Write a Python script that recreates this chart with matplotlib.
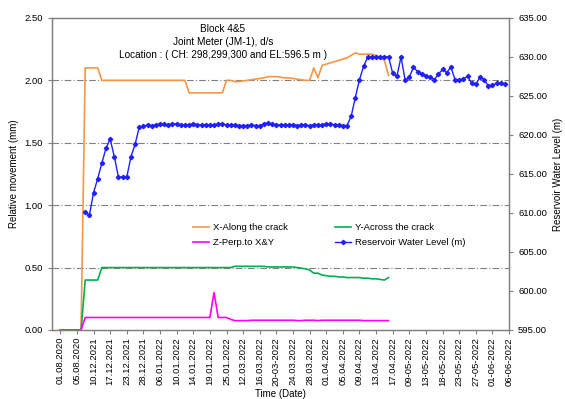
import numpy as np
import matplotlib
matplotlib.use("Agg")
import matplotlib.pyplot as plt
from matplotlib.ticker import FormatStrFormatter

plt.rcParams['font.family'] = ['Liberation Sans', 'DejaVu Sans']

# x axis labels (one every 4 readings)
dates = ["01.08.2020", "05.08.2020", "10.12.2021", "17.12.2021", "23.12.2021",
         "28.12.2021", "06.01.2022", "10.01.2022", "14.01.2022", "19.01.2022",
         "25.01.2022", "12.03.2022", "16.03.2022", "20-03-2022", "24.03.2022",
         "28.03.2022", "01.04.2022", "05.04.2022", "09.04.2022", "13.04.2022",
         "17.04.2022", "09-05-2022", "13-05-2022", "18-05-2022", "23-05-2022",
         "27-05-2022", "01-06-2022", "06-06-2022"]

# X - along the crack (mm)
x_along = ([0.0] * 6 + [2.10] * 4 + [2.00] * 21 + [1.90] * 9 +
           [2.00, 2.00, 1.99, 1.99, 1.995, 2.00, 2.005, 2.01, 2.015, 2.02,
            2.03, 2.03, 2.03, 2.025, 2.02, 2.02, 2.015, 2.01, 2.005, 2.00,
            2.00, 2.10, 2.02, 2.12, 2.13, 2.14, 2.15, 2.16, 2.17, 2.18,
            2.20, 2.22, 2.21, 2.21, 2.21, 2.21, 2.20, 2.18, 2.16, 2.04])

# Y - across the crack (mm)
y_across = ([0.0] * 6 + [0.40] * 4 + [0.50] * 32 + [0.51] * 8 + [0.505] * 7 +
            [0.50, 0.495, 0.49, 0.48, 0.455, 0.455, 0.44, 0.435, 0.43, 0.43,
             0.425, 0.425, 0.42, 0.42, 0.42, 0.42, 0.415, 0.415, 0.41, 0.41,
             0.405, 0.40, 0.42])

# Z - perpendicular (mm)
z_perp = ([0.0] * 6 + [0.10] * 31 + [0.30, 0.10, 0.10, 0.10, 0.085] +
          [0.075, 0.075, 0.075, 0.075, 0.078, 0.078, 0.078, 0.078, 0.078, 0.078,
           0.078, 0.078, 0.078, 0.078, 0.078, 0.075, 0.075, 0.078, 0.078, 0.078,
           0.075, 0.078, 0.078, 0.078, 0.078, 0.078, 0.078, 0.078, 0.078, 0.078,
           0.078, 0.075, 0.075, 0.075, 0.075, 0.075, 0.075, 0.075])

# reservoir water level (m)
water = ([np.nan] * 6 +
         [610.1, 609.7, 612.6, 614.4, 616.4, 618.3, 619.5, 617.2, 614.6, 614.6,
          614.6, 617.2, 618.8, 621.0, 621.1, 621.3, 621.2, 621.3, 621.4, 621.4,
          621.3, 621.4, 621.4, 621.3, 621.3, 621.3, 621.4, 621.3, 621.3, 621.3,
          621.3, 621.3, 621.4, 621.4, 621.3, 621.3, 621.3, 621.2, 621.2, 621.2,
          621.3, 621.2, 621.2, 621.4, 621.5, 621.4, 621.3, 621.3, 621.3, 621.3,
          621.3, 621.2, 621.3, 621.3, 621.2, 621.3, 621.3, 621.3, 621.4, 621.4,
          621.3, 621.3, 621.2, 621.2, 622.4, 624.8, 627.1, 628.8, 630.0, 630.0,
          630.0, 630.0, 630.0, 630.0, 627.9, 627.5, 630.0, 627.0, 627.4, 628.7,
          628.1, 627.8, 627.6, 627.4, 627.1, 627.8, 628.4, 628.0, 628.7, 627.1,
          627.0, 627.2, 627.5, 626.6, 626.5, 627.4, 627.1, 626.3, 626.4, 626.6,
          626.6, 626.5])

fig, ax = plt.subplots(figsize=(5.65, 3.99), dpi=100)
fig.subplots_adjust(left=0.092, right=0.901, top=0.955, bottom=0.173)

l1, = ax.plot(np.arange(len(x_along)), x_along, color="#F79646", lw=1.2, label="X-Along the crack")
l2, = ax.plot(np.arange(len(y_across)), y_across, color="#00B050", lw=1.2, label="Y-Across the crack")
l3, = ax.plot(np.arange(len(z_perp)), z_perp, color="#FF00FF", lw=1.2, label="Z-Perp.to X&Y")

ax2 = ax.twinx()
l4, = ax2.plot(np.arange(len(water)), water, color="#2020FF", lw=1.0, marker="D",
               markersize=2.2, label="Reservoir Water Level (m)")

ax.set_xlim(-2, 108)
ax.set_ylim(0, 2.5)
ax.set_yticks(np.arange(0, 2.51, 0.5))
ax.yaxis.set_major_formatter(FormatStrFormatter("%.2f"))
ax2.set_ylim(595, 635)
ax2.set_yticks(np.arange(595, 636, 5))
ax2.yaxis.set_major_formatter(FormatStrFormatter("%.2f"))

ax.set_xticks(np.arange(0, 4 * len(dates), 4))
ax.set_xticklabels(dates, rotation=90, fontsize=6.8)
ax.tick_params(axis="x", length=3, color="#808080", pad=2)
ax.tick_params(axis="y", labelsize=6.8, length=3, color="#808080")
ax2.tick_params(axis="y", labelsize=6.8, length=3, color="#808080")

for yv in [0.5, 1.0, 1.5, 2.0]:
    ax.axhline(yv, color="#808080", lw=0.8, dashes=(6, 2, 1, 2), zorder=0)

for a in (ax, ax2):
    for s in a.spines.values():
        s.set_color("#808080")
        s.set_linewidth(0.9)

ax.set_ylabel("Relative movement (mm)", fontsize=7)
ax2.set_ylabel("Reservoir Water Level (m)", fontsize=7)
ax.set_xlabel("Time (Date)", fontsize=7, labelpad=2)

ax2.legend([l1, l3, l2, l4], [l1.get_label(), l3.get_label(), l2.get_label(), l4.get_label()],
           ncol=2, frameon=False, fontsize=6.8, loc="upper left",
           bbox_to_anchor=(0.29, 0.37), handlelength=1.7, handletextpad=0.4,
           columnspacing=5.0, labelspacing=0.65)

fig.text(223 / 565, 1 - 29 / 399, "Block 4&5", ha="center", va="center", fontsize=7.2)
fig.text(223 / 565, 1 - 42 / 399, "Joint Meter (JM-1), d/s", ha="center", va="center", fontsize=7.2)
fig.text(223 / 565, 1 - 55 / 399, "Location : ( CH: 298,299,300 and EL:596.5 m )",
         ha="center", va="center", fontsize=7.2)

fig.savefig("out.png", dpi=100)
